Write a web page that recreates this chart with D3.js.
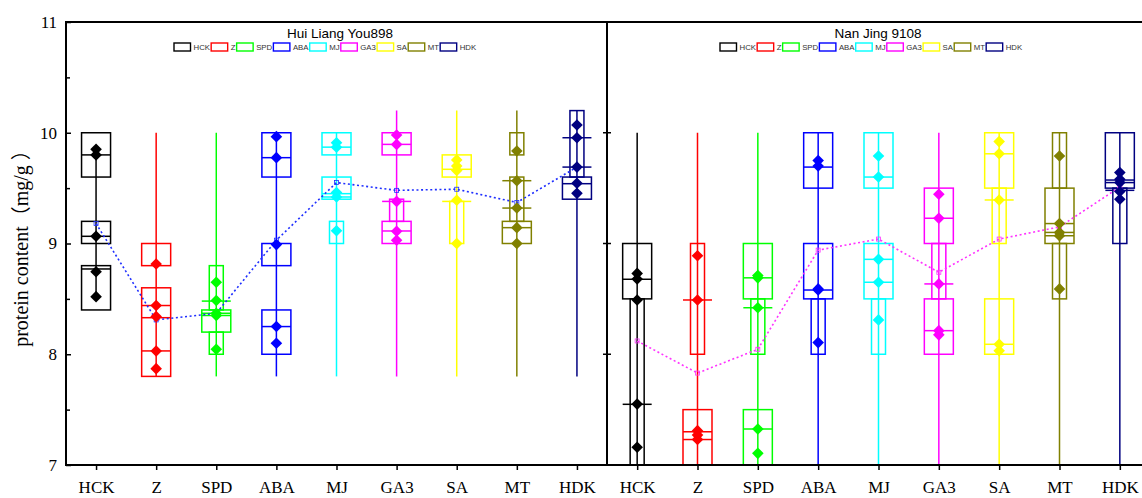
<!DOCTYPE html>
<html>
<head>
<meta charset="utf-8">
<script src="https://cdn.jsdelivr.net/npm/d3@7"></script>
<style>
  body { margin: 0; background: #fff; }
  svg text { font-family: "Liberation Serif", "Times New Roman", serif; }
</style>
</head>
<body>
<svg id="chart" width="1142" height="498"></svg>
<script>
// ---- data -------------------------------------------------------------
const categories = ["HCK", "Z", "SPD", "ABA", "MJ", "GA3", "SA", "MT", "HDK"];
const yMajorTicks = [7, 8, 9, 10, 11];
const yMinorTicks = [7.5, 8.5, 9.5, 10.5];
const yAxisTitle = "protein content\uFF08mg/g \uFF09";

// Hui Liang You898
const hlyTitle = "Hui Liang You898";
const hlyPoints = [
  [9.85, 9.80, 9.065, 8.745, 8.52],
  [8.815, 8.44, 8.34, 8.03, 7.87],
  [8.65, 8.485, 8.37, 8.35, 8.045],
  [9.965, 9.775, 8.99, 8.25, 8.10],
  [9.91, 9.87, 9.46, 9.42, 9.115],
  [9.98, 9.895, 9.38, 9.11, 9.03],
  [9.755, 9.70, 9.66, 9.39, 9.0],
  [9.835, 9.567, 9.32, 9.143, 9.0],
  [10.07, 9.955, 9.69, 9.544, 9.453]
];
const hlyMeans = [9.18, 8.31, 8.37, 9.03, 9.55, 9.48, 9.49, 9.37, 9.69];
const hlyWhiskers = [
  [8.52, 9.85], [7.8, 10.0], [7.8, 10.0], [7.8, 10.0], [7.8, 10.0],
  [7.8, 10.2], [7.8, 10.2], [7.8, 10.2], [7.8, 10.2]
];
// box sections: [low, high, "w" full box | "n" notch]
const hlyBoxes = [
  [[9.6, 10.0, "w"], [9.0, 9.2, "w"], [8.4, 8.8, "w"]],
  [[8.8, 9.0, "w"], [7.8, 8.6, "w"]],
  [[8.4, 8.8, "n"], [8.2, 8.4, "w"], [8.0, 8.2, "n"]],
  [[9.6, 10.0, "w"], [8.8, 9.0, "w"], [8.0, 8.4, "w"]],
  [[9.8, 10.0, "w"], [9.4, 9.6, "w"], [9.0, 9.2, "n"]],
  [[9.8, 10.0, "w"], [9.2, 9.4, "n"], [9.0, 9.2, "w"]],
  [[9.6, 9.8, "w"], [9.0, 9.38, "n"]],
  [[9.8, 10.0, "n"], [9.2, 9.6, "n"], [9.0, 9.2, "w"]],
  [[9.6, 10.2, "n"], [9.4, 9.6, "w"]]
];
const hlyLines = [
  [9.80, 9.065, 8.77],
  [8.44, 8.33, 8.03],
  [8.48, 8.37, 8.35],
  [9.775, 8.25],
  [9.87, 9.45, 9.42],
  [9.895, 9.38, 9.113],
  [9.67, 9.38],
  [9.567, 9.32, 9.143],
  [9.955, 9.69, 9.54]
];

// Nan Jing 9108
const njTitle = "Nan Jing 9108";
const njPoints = [
  [8.73, 8.68, 8.49, 7.55, 7.16],
  [8.89, 8.49, 7.31, 7.27, 7.23],
  [8.71, 8.69, 8.42, 7.325, 7.105],
  [9.75, 9.70, 8.59, 8.58, 8.105],
  [9.79, 9.60, 8.857, 8.65, 8.31],
  [9.445, 9.228, 8.635, 8.213, 8.175],
  [9.92, 9.81, 9.393, 8.09, 8.032],
  [9.79, 9.18, 9.10, 9.07, 8.59],
  [9.64, 9.58, 9.55, 9.47, 9.40]
];
const njMeans = [8.12, 7.83, 8.045, 8.94, 9.04, 8.74, 9.04, 9.15, 9.51];
const njWhiskers = [
  [6.9, 10.0], [6.9, 10.0], [6.9, 10.0], [6.9, 10.0], [6.9, 10.0],
  [6.9, 10.0], [6.9, 10.0], [6.9, 10.0], [6.9, 10.0]
];
const njBoxes = [
  [[8.5, 9.0, "w"], [6.9, 8.5, "n"]],
  [[8.0, 9.0, "n"], [6.9, 7.5, "w"]],
  [[8.5, 9.0, "w"], [8.0, 8.5, "n"], [6.9, 7.5, "w"]],
  [[9.5, 10.0, "w"], [8.5, 9.0, "w"], [8.0, 8.5, "n"]],
  [[9.5, 10.0, "w"], [8.5, 9.0, "w"], [8.0, 8.5, "n"]],
  [[9.0, 9.5, "w"], [8.5, 9.0, "n"], [8.0, 8.5, "w"]],
  [[9.5, 10.0, "w"], [9.0, 9.5, "n"], [8.0, 8.5, "w"]],
  [[9.5, 10.0, "n"], [9.0, 9.5, "w"], [8.5, 9.0, "n"]],
  [[9.5, 10.0, "w"], [9.0, 9.5, "n"]]
];
const njLines = [
  [8.677, 7.548],
  [8.49, 7.30, 7.23],
  [8.69, 8.42, 7.325],
  [9.69, 8.58],
  [9.60, 8.857, 8.65],
  [9.228, 8.635, 8.213],
  [9.81, 9.393, 8.09],
  [9.18, 9.10, 9.07],
  [9.573, 9.55, 9.48]
];

// ---- styles -----------------------------------------------------------
const groupColors = ["#000000", "#FF0000", "#00FF00", "#0000FF", "#00FFFF",
                     "#FF00FF", "#FFFF00", "#808000", "#000080"];

const svg = d3.select("#chart");
const plotTop = 22, plotBottom = 465;
const y = d3.scaleLinear().domain([7, 11]).range([plotBottom, plotTop]);

const boxHalf = 14.5, notchHalf = 7, diamondHalf = 5.8;

function drawPanel(p, idx) {
  const x = d3.scalePoint().domain(categories).range([p.x0, p.x1]).padding(0.5);

  const clipId = "clip" + idx;
  svg.append("defs").append("clipPath").attr("id", clipId)
    .append("rect").attr("x", p.x0).attr("y", plotTop)
    .attr("width", p.x1 - p.x0).attr("height", plotBottom - plotTop);

  const g = svg.append("g").attr("clip-path", `url(#${clipId})`);

  categories.forEach((c, i) => {
    const cx = x(c), col = groupColors[i];
    const cg = g.append("g").attr("stroke", col).attr("fill", "none")
      .attr("stroke-width", 1.5);

    cg.append("line")
      .attr("x1", cx).attr("x2", cx)
      .attr("y1", y(p.whiskers[i][0])).attr("y2", y(p.whiskers[i][1]));

    cg.selectAll("rect.sec").data(p.boxes[i]).join("rect").attr("class", "sec")
      .attr("x", d => cx - (d[2] === "w" ? boxHalf : notchHalf))
      .attr("width", d => 2 * (d[2] === "w" ? boxHalf : notchHalf))
      .attr("y", d => y(d[1]))
      .attr("height", d => y(d[0]) - y(d[1]));

    cg.selectAll("line.lv").data(p.lines[i]).join("line").attr("class", "lv")
      .attr("x1", cx - boxHalf).attr("x2", cx + boxHalf)
      .attr("y1", d => y(d)).attr("y2", d => y(d));
  });

  // mean trend line
  const meanLine = d3.line().x((d, i) => x(categories[i])).y(d => y(d));
  g.append("path").datum(p.means)
    .attr("d", meanLine)
    .attr("fill", "none")
    .attr("stroke", p.meanColor)
    .attr("stroke-width", 1.6)
    .attr("stroke-dasharray", "2,2.6");
  g.selectAll("rect.mean").data(p.means).join("rect").attr("class", "mean")
    .attr("x", (d, i) => x(categories[i]) - 2)
    .attr("y", d => y(d) - 2)
    .attr("width", 4).attr("height", 4)
    .attr("fill", "none").attr("stroke", p.meanColor).attr("stroke-width", 0.8);

  // data points
  categories.forEach((c, i) => {
    const cx = x(c);
    g.selectAll(null).data(p.points[i]).join("path")
      .attr("d", d => {
        const py = y(d), h = diamondHalf;
        return `M${cx},${py - h}L${cx + h},${py}L${cx},${py + h}L${cx - h},${py}Z`;
      })
      .attr("fill", groupColors[i]);
  });

  // frame
  svg.append("rect")
    .attr("x", p.x0).attr("y", plotTop)
    .attr("width", p.x1 - p.x0).attr("height", plotBottom - plotTop)
    .attr("fill", "none").attr("stroke", "#000").attr("stroke-width", 2);

  // bottom axis
  const xAxis = svg.append("g")
    .attr("transform", `translate(0,${plotBottom})`)
    .call(d3.axisBottom(x).tickSize(5).tickPadding(11));
  xAxis.select(".domain").remove();
  xAxis.selectAll(".tick line").attr("stroke", "#000").attr("stroke-width", 1.5);
  xAxis.selectAll(".tick text")
    .attr("font-family", "Liberation Serif, serif")
    .attr("font-size", 17).attr("fill", "#000");

  // title
  svg.append("text")
    .attr("x", p.titleX).attr("y", 38)
    .attr("text-anchor", "middle")
    .style("font-family", "Liberation Sans, Arial, sans-serif")
    .style("font-size", "13.5px")
    .attr("fill", "#000")
    .text(p.title);

  // legend
  const lg = svg.append("g").attr("transform", `translate(${p.legendX},43)`);
  let lx = 0;
  categories.forEach((c, i) => {
    lg.append("rect")
      .attr("x", lx).attr("y", 0).attr("width", 16.5).attr("height", 8)
      .attr("fill", "none").attr("stroke", groupColors[i]).attr("stroke-width", 1.4);
    const t = lg.append("text")
      .attr("x", lx + 19.5).attr("y", 7.4)
      .style("font-family", "Liberation Sans, Arial, sans-serif")
      .style("font-size", "7.8px")
      .attr("fill", "#333")
      .text(c);
    lx += 19.5 + t.node().getComputedTextLength() + 1.2;
  });

  return x;
}

drawPanel({
  title: hlyTitle, x0: 66, x1: 607, titleX: 340, legendX: 174,
  points: hlyPoints, means: hlyMeans, whiskers: hlyWhiskers,
  boxes: hlyBoxes, lines: hlyLines, meanColor: "#1f2fff"
}, 0);
drawPanel({
  title: njTitle, x0: 607, x1: 1150, titleX: 878, legendX: 720,
  points: njPoints, means: njMeans, whiskers: njWhiskers,
  boxes: njBoxes, lines: njLines, meanColor: "#ff33ff"
}, 1);

// y axis (left, inward ticks)
const yAxis = svg.append("g").attr("transform", "translate(66,0)")
  .call(d3.axisLeft(y).tickValues(yMajorTicks).tickSizeInner(-5).tickSizeOuter(0)
    .tickPadding(9).tickFormat(d3.format("d")));
yAxis.select(".domain").remove();
yAxis.selectAll(".tick line").attr("stroke", "#000").attr("stroke-width", 1.5);
yAxis.selectAll(".tick text")
  .attr("font-family", "Liberation Serif, serif")
  .attr("font-size", 17).attr("fill", "#000");
const yMinor = svg.append("g").attr("transform", "translate(66,0)")
  .call(d3.axisLeft(y).tickValues(yMinorTicks).tickSizeInner(-4).tickSizeOuter(0).tickFormat(""));
yMinor.select(".domain").remove();
yMinor.selectAll(".tick line").attr("stroke", "#000").attr("stroke-width", 1.5);

// inner ticks on the shared divider
const divTicks = [8, 9, 10];
svg.append("g").selectAll("line").data(divTicks).join("line")
  .attr("x1", 603).attr("x2", 611)
  .attr("y1", d => y(d)).attr("y2", d => y(d))
  .attr("stroke", "#000").attr("stroke-width", 1.5);

// y axis title
svg.append("text")
  .attr("transform", `translate(28,${(plotTop + plotBottom) / 2}) rotate(-90)`)
  .attr("text-anchor", "middle")
  .style("font-family", "Liberation Serif, 'Noto Sans CJK SC', serif")
  .style("font-size", "20px")
  .attr("fill", "#000")
  .text(yAxisTitle);
</script>
</body>
</html>
